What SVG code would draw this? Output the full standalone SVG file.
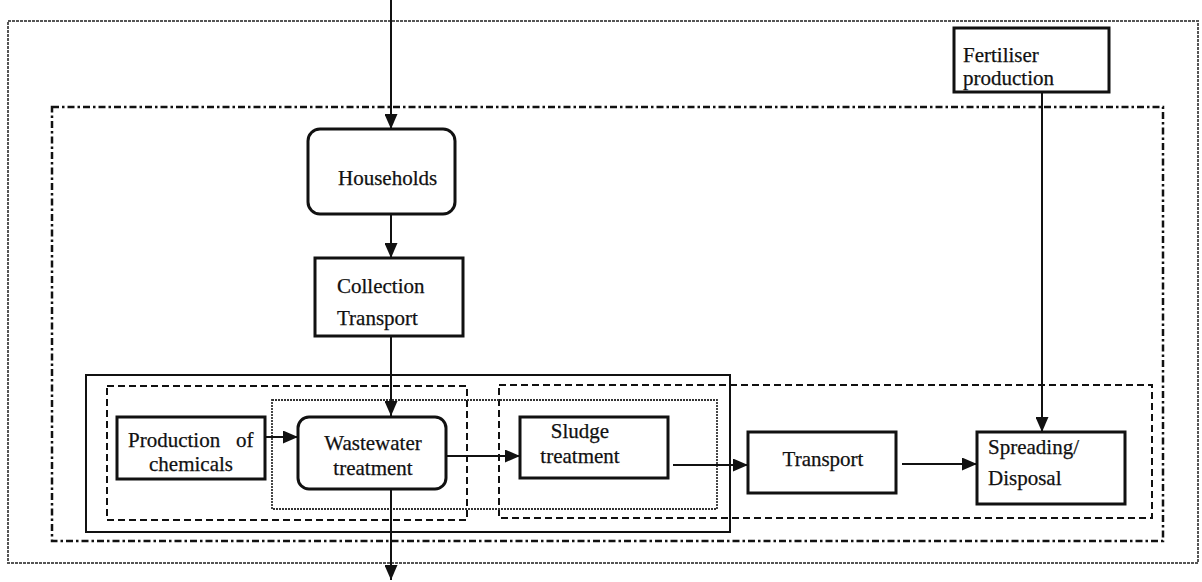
<svg xmlns="http://www.w3.org/2000/svg" width="1202" height="582" viewBox="0 0 1202 582">
<defs>
<marker id="ah" markerUnits="userSpaceOnUse" markerWidth="15" markerHeight="13" viewBox="0 0 15 13" refX="15" refY="6.5" orient="auto">
<path d="M0,0 L15,6.5 L0,13 Z" fill="#111"/>
</marker>
</defs>
<style>
text{font-family:"Liberation Serif","Times New Roman",serif;font-size:21px;fill:#111;stroke:#111;stroke-width:0.25}
.node{fill:#fff;stroke:#111;stroke-width:3}
.conn{fill:none;stroke:#111;stroke-width:2}
.outer{fill:none;stroke:#555;stroke-width:2;stroke-dasharray:3 1}
.dashdot{fill:none;stroke:#111;stroke-width:2.5;stroke-dasharray:7 3 2.5 3}
.dashed{fill:none;stroke:#111;stroke-width:2;stroke-dasharray:7 4}
.solid{fill:none;stroke:#111;stroke-width:2}
.thin{fill:none;stroke:#333;stroke-width:1.8;stroke-dasharray:2 1}
</style>
<rect width="1202" height="582" fill="#fff"/>
<g id="boundaries">
<rect class="outer" x="8" y="21" width="1190" height="542"/>
<rect class="dashdot" x="52" y="107" width="1111" height="434"/>
<rect class="solid" x="86" y="375" width="644" height="157"/>
<rect class="dashed" x="107" y="386" width="360" height="134"/>
<rect class="dashed" x="499" y="385" width="653" height="133"/>
<rect class="thin" x="272" y="400" width="445" height="109"/>
</g>
<g id="connectors">
<path class="conn" d="M391,0 V129" marker-end="url(#ah)"/>
<path class="conn" d="M391,214 V258" marker-end="url(#ah)"/>
<path class="conn" d="M391,336 V416" marker-end="url(#ah)"/>
<path class="conn" d="M265,437 H298" marker-end="url(#ah)"/>
<path class="conn" d="M446,456 H520" marker-end="url(#ah)"/>
<path class="conn" d="M673,465 H748" marker-end="url(#ah)"/>
<path class="conn" d="M902,464 H977" marker-end="url(#ah)"/>
<path class="conn" d="M1042,92 V432" marker-end="url(#ah)"/>
<path class="conn" d="M391,489 V580" marker-end="url(#ah)"/>
</g>
<g id="households">
<rect class="node" x="308" y="129" width="147" height="85" rx="12"/>
<text x="338" y="185">Households</text>
</g>
<g id="collection">
<rect class="node" x="315" y="258" width="148" height="78"/>
<text x="337" y="293">Collection</text>
<text x="337" y="325">Transport</text>
</g>
<g id="fertiliser">
<rect class="node" x="954" y="28" width="155" height="64" stroke-width="2.5"/>
<text x="963" y="62">Fertiliser</text>
<text x="963" y="85">production</text>
</g>
<g id="production">
<rect class="node" x="117" y="417" width="148" height="62"/>
<text x="128" y="447">Production</text>
<text x="236" y="447">of</text>
<text x="191" y="471" text-anchor="middle">chemicals</text>
</g>
<g id="wastewater">
<rect class="node" x="298" y="417" width="148" height="72" rx="11"/>
<text x="373" y="450" text-anchor="middle">Wastewater</text>
<text x="373" y="475" text-anchor="middle">treatment</text>
</g>
<g id="sludge">
<rect class="node" x="520" y="417" width="148" height="61"/>
<text x="580" y="438" text-anchor="middle">Sludge</text>
<text x="580" y="463" text-anchor="middle">treatment</text>
</g>
<g id="transport">
<rect class="node" x="748" y="432" width="148" height="61"/>
<text x="823" y="466" text-anchor="middle">Transport</text>
</g>
<g id="spreading">
<rect class="node" x="977" y="432" width="148" height="72"/>
<text x="988" y="454">Spreading/</text>
<text x="988" y="485">Disposal</text>
</g>
</svg>
